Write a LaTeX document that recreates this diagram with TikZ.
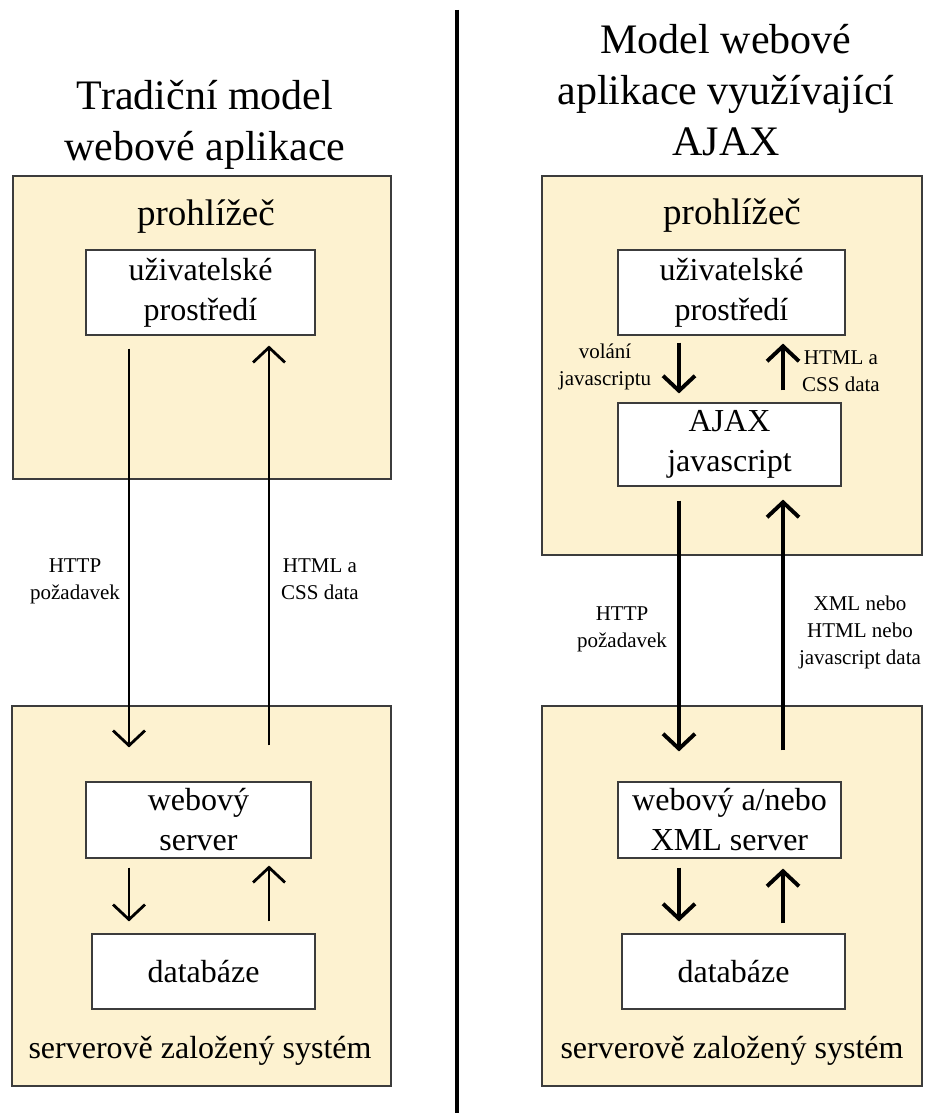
\documentclass[tikz,border=0pt]{standalone}
\usepackage{fontspec}
\setmainfont{Liberation Serif}
\usetikzlibrary{arrows.meta, positioning}
\definecolor{panelfill}{RGB}{253,242,208}
\definecolor{panelline}{RGB}{60,60,60}

\begin{document}
\begin{tikzpicture}[x=1pt, y=-1pt,
    panel/.style={draw=panelline, fill=panelfill, line width=1.3pt, inner sep=0pt},
    inbox/.style={draw=panelline, fill=white, line width=1.1pt, inner sep=0pt, align=center, font=\fontsize{32}{40}\selectfont},
    ttl/.style={align=center, inner sep=0pt, font=\fontsize{42}{51}\selectfont},
    big/.style={inner sep=0pt, font=\fontsize{32}{40}\selectfont},
    lbl/.style={align=center, inner sep=0pt, font=\fontsize{21}{27}\selectfont},
    arrL/.style={-{Straight Barb[length=15pt, width=32pt]}, line width=2.8pt},
    arrR/.style={-{Straight Barb[length=15pt, width=32pt]}, line width=3.9pt}]
    \useasboundingbox (0,0) rectangle (925,1113);

    % traditional model
    \node[ttl] (titleL) at (205,125) {Tradiční model\\webové aplikace};
    \node[panel, minimum width=378pt, minimum height=303pt] (browL) at (202,327.5) {};
    \node[big, anchor=base, font=\fontsize{37}{40}\selectfont] (browtxtL) at (206,225) {prohlížeč};
    \node[inbox, minimum width=229pt, minimum height=85pt] (uiL) at (200.5,292.5) {uživatelské\\prostředí};
    \node[panel, minimum width=379pt, minimum height=380pt] (srvL) at (201.5,896) {};
    \node[inbox, minimum width=225pt, minimum height=76pt] (webL) at (198.5,820) {webový\\server};
    \node[inbox, minimum width=223pt, minimum height=75pt] (dbL) at (203.5,971.5) {databáze};
    \node[big, anchor=base] (systxtL) at (200,1058) {serverově založený systém};

    \coordinate (lxa) at (129,0);
    \coordinate (lxb) at (269,0);
    \draw[arrL, shorten <=13pt, shorten >=34pt] (uiL.south -| lxa) -- (webL.north -| lxa);
    \draw[arrL, shorten <=36pt, shorten >=10pt] (webL.north -| lxb) -- (uiL.south -| lxb);
    \draw[arrL, shorten <=9pt, shorten >=12pt] (webL.south -| lxa) -- (dbL.north -| lxa);
    \draw[arrL, shorten <=12pt, shorten >=7pt] (dbL.north -| lxb) -- (webL.south -| lxb);
    \node[lbl] (httpL) at (75,581) {HTTP\\požadavek};
    \node[lbl] (htmlL) at (320,579) {HTML a\\CSS data};

    % divider
    \draw[line width=4pt] (457,10) -- (457,1113);

    % AJAX model
    \node[ttl] (titleR) at (726,90) {Model webové\\aplikace využívající\\AJAX};
    \node[panel, minimum width=380pt, minimum height=379pt] (browR) at (732,365.5) {};
    \node[big, anchor=base, font=\fontsize{37}{40}\selectfont] (browtxtR) at (732,224) {prohlížeč};
    \node[inbox, minimum width=227pt, minimum height=85pt] (uiR) at (731.5,292.5) {uživatelské\\prostředí};
    \node[inbox, minimum width=223pt, minimum height=83pt] (ajaxR) at (729.5,444.5) {AJAX\\javascript};
    \node[panel, minimum width=380pt, minimum height=380pt] (srvR) at (732,896) {};
    \node[inbox, minimum width=223pt, minimum height=76pt] (webR) at (729.5,820) {webový a/nebo\\XML server};
    \node[inbox, minimum width=223pt, minimum height=75pt] (dbR) at (733.5,971.5) {databáze};
    \node[big, anchor=base] (systxtR) at (732,1058) {serverově založený systém};

    \coordinate (rxa) at (679,0);
    \coordinate (rxb) at (783,0);
    \draw[arrR, shorten <=7pt, shorten >=9pt] (uiR.south -| rxa) -- (ajaxR.north -| rxa);
    \draw[arrR, shorten <=12pt, shorten >=8pt] (ajaxR.north -| rxb) -- (uiR.south -| rxb);
    \draw[arrR, shorten <=14pt, shorten >=30pt] (ajaxR.south -| rxa) -- (webR.north -| rxa);
    \draw[arrR, shorten <=31pt, shorten >=13pt] (webR.north -| rxb) -- (ajaxR.south -| rxb);
    \draw[arrR, shorten <=9pt, shorten >=12pt] (webR.south -| rxa) -- (dbR.north -| rxa);
    \draw[arrR, shorten <=10pt, shorten >=10pt] (dbR.north -| rxb) -- (webR.south -| rxb);
    \node[lbl] (callR) at (605,367) {volání\\javascriptu};
    \node[lbl] (htmlR) at (841,371) {HTML a\\CSS data};
    \node[lbl] (httpR) at (622,629) {HTTP\\požadavek};
    \node[lbl] (xmlR) at (860,632) {XML nebo\\HTML nebo\\javascript data};
\end{tikzpicture}
\end{document}
